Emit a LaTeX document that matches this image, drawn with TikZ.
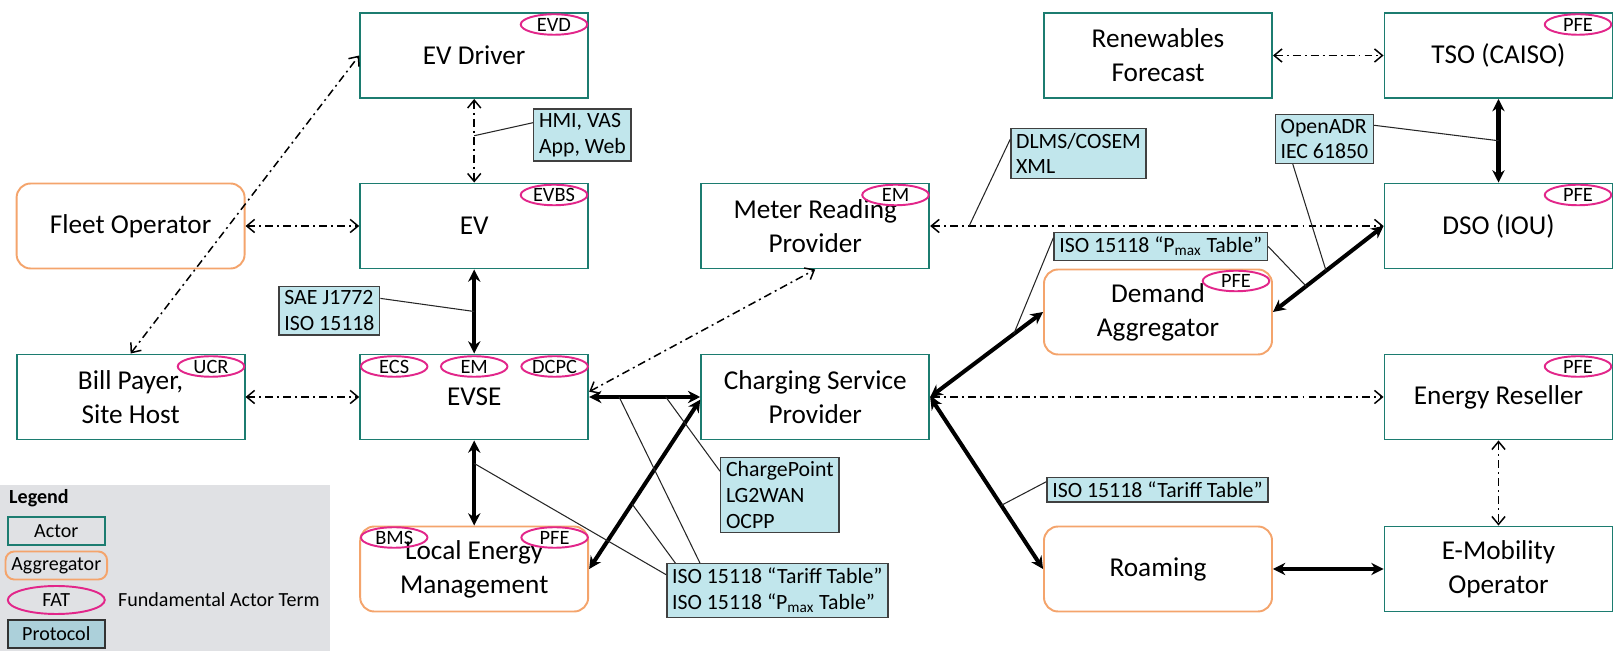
\documentclass[tikz,border=0pt]{standalone}
\usepackage{fontspec}
\setmainfont{Carlito}
\usetikzlibrary{arrows.meta,shapes.geometric}

\definecolor{actorteal}{RGB}{28,124,112}
\definecolor{aggrorange}{RGB}{244,164,108}
\definecolor{fatpink}{RGB}{226,38,138}
\definecolor{protoblue}{RGB}{193,230,236}
\definecolor{protoline}{RGB}{64,64,64}
\definecolor{legendgray}{RGB}{224,225,228}
\definecolor{legendblue}{RGB}{172,208,218}

\begin{document}
\begin{tikzpicture}[x=0.2mm,y=-0.2mm]
    \tikzset{actor/.style = {shape=rectangle, draw=actorteal, line width=1.1pt, fill=white, minimum width=4.56cm, minimum height=1.70cm, align=center, font=\fontsize{15.5}{19.3}\selectfont}}
    \tikzset{aggr/.style = {actor, draw=aggrorange, rounded corners=8pt}}
    \tikzset{fat/.style = {shape=ellipse, draw=fatpink, line width=1.1pt, minimum width=1.33cm, minimum height=0.41cm, inner sep=0pt, font=\fontsize{11.6}{12}\selectfont}}
    \tikzset{proto/.style = {shape=rectangle, draw=protoline, fill=protoblue, line width=0.8pt, align=left, inner xsep=3pt, inner ysep=2.5pt, font=\fontsize{12.4}{14.6}\selectfont}}
    \tikzset{info/.style = {line width=0.85pt, dash pattern=on 4.5pt off 2.3pt on 1.1pt off 2.3pt, {Straight Barb[length=4.5pt,width=7.5pt]}-{Straight Barb[length=4.5pt,width=7.5pt]}}}
    \tikzset{energy/.style = {line width=2.3pt, {Stealth[length=7pt,width=7pt]}-{Stealth[length=7pt,width=7pt]}}}
    \tikzset{callout/.style = {draw=black!85, line width=0.6pt}}
    \tikzset{legbox/.style = {minimum width=1.94cm, minimum height=0.56cm, fill=none, font=\fontsize{11.4}{13}\selectfont}}

    \useasboundingbox (0,0) rectangle (1614,651);

    % legend background
    \fill[legendgray] (0,485) rectangle (330,651);

    % actors
    \node[actor] (evdriver) at (474.2,55.5)  {EV Driver};
    \node[actor] (ev)       at (474.2,226)   {EV};
    \node[aggr]  (fleet)    at (130.6,226)   {Fleet Operator};
    \node[actor] (billpayer) at (130.6,397)  {Bill Payer,\\Site Host};
    \node[actor] (evse)     at (474.2,397)   {EVSE};
    \node[aggr]  (lem)      at (474.2,569)   {Local Energy\\Management};
    \node[actor] (meter)    at (815.2,226)   {Meter Reading\\Provider};
    \node[actor] (csp)      at (815.2,397)   {Charging Service\\Provider};
    \node[actor] (renew)    at (1158,55.5)   {Renewables\\Forecast};
    \node[aggr]  (demand)   at (1158,312)    {Demand\\Aggregator};
    \node[aggr]  (roaming)  at (1158,569)    {Roaming};
    \node[actor] (tso)      at (1498.5,55.5) {TSO (CAISO)};
    \node[actor] (dso)      at (1498.5,226)  {DSO (IOU)};
    \node[actor] (reseller) at (1498.5,397)  {Energy Reseller};
    \node[actor] (emob)     at (1498.5,569)  {E-Mobility\\Operator};

    % fundamental actor terms
    \node[fat] (fatevd)  at (554,24.5)    {EVD};
    \node[fat] (fatevbs) at (554,195)     {EVBS};
    \node[fat] (fatmrp)  at (895.5,195)   {EM};
    \node[fat] (fattso)  at (1578,24.5)   {PFE};
    \node[fat] (fatdso)  at (1578,195)    {PFE};
    \node[fat] (fatdem)  at (1236,281)    {PFE};
    \node[fat] (fatres)  at (1578,366.5)  {PFE};
    \node[fat] (fatucr)  at (211,366.5)   {UCR};
    \node[fat] (fatecs)  at (394.2,366.5) {ECS};
    \node[fat] (fatem)   at (474.2,366.5) {EM};
    \node[fat] (fatdcpc) at (554.6,366.5) {DCPC};
    \node[fat] (fatbms)  at (394.2,537.5) {BMS};
    \node[fat] (fatlem)  at (554.6,537.5) {PFE};

    % protocols
    \node[proto] (hmi)     at (582.4,135)   {HMI, VAS\\App, Web};
    \node[proto] (sae)     at (329.4,310.7) {SAE J1772\\ISO 15118};
    \node[proto] (dlms)    at (1078.5,153.5) {DLMS/COSEM\\XML};
    \node[proto] (openadr) at (1324.4,139)  {OpenADR\\IEC 61850};
    \node[proto] (pmaxtab) at (1160.8,246.5) {ISO 15118 “P\textsubscript{max} Table”};
    \node[proto] (cpoint)  at (779.8,495)   {ChargePoint\\LG2WAN\\OCPP};
    \node[proto] (isotab)  at (777.3,590.5) {ISO 15118 “Tariff Table”\\ISO 15118 “P\textsubscript{max} Table”};
    \node[proto] (tariff)  at (1157.5,489.8) {ISO 15118 “Tariff Table”};

    % information links
    \draw[info] (evdriver) -- coordinate[pos=0.44] (hmipt) (ev);
    \draw[info] (fleet) -- (ev);
    \draw[info] (billpayer) -- (evse);
    \draw[info] (billpayer.north) -- (evdriver.west);
    \draw[info] ([yshift=3pt]evse.east) -- (meter.south);
    \draw[info] (meter) -- coordinate[pos=0.086] (dlmspt) (dso);
    \draw[info] (renew) -- (tso);
    \draw[info] (csp) -- (reseller);
    \draw[info] (reseller) -- (emob);

    % energy and control links
    \draw[energy] (ev) -- coordinate[pos=0.5] (saept) (evse);
    \draw[energy] (evse) -- coordinate[pos=0.27] (lempt) (lem);
    \draw[energy] (evse) -- coordinate[pos=0.27] (isopt) coordinate[pos=0.69] (cppt) (csp);
    \draw[energy] (lem.east) -- coordinate[pos=0.385] (lemcsppt) ([yshift=-1.5pt]csp.west);
    \draw[energy] (tso) -- coordinate[pos=0.5] (tsodsopt) (dso);
    \draw[energy] (demand.east) -- coordinate[pos=0.30] (pmaxrpt) coordinate[pos=0.48] (adrpt) (dso.west);
    \draw[energy] (csp.east) -- coordinate[pos=0.74] (pmaxlpt) (demand.west);
    \draw[energy] (csp.east) -- coordinate[pos=0.63] (tariffpt) (roaming.west);
    \draw[energy] (roaming) -- (emob);

    % callouts
    \draw[callout] ([yshift=7pt]hmi.west) -- (hmipt);
    \draw[callout] ([yshift=7pt]sae.east) -- (saept);
    \draw[callout] ([yshift=8pt]dlms.west) -- (dlmspt);
    \draw[callout] ([yshift=7.8pt]openadr.east) -- (tsodsopt);
    \draw[callout] ([xshift=-18pt]openadr.south) -- (adrpt);
    \draw[callout] ([yshift=5pt]pmaxtab.west) -- (pmaxlpt);
    \draw[callout] (pmaxtab.east) -- (pmaxrpt);
    \draw[callout] ([yshift=13.5pt]cpoint.west) -- (cppt);
    \draw[callout] ([yshift=9pt]isotab.west) -- (lempt);
    \draw[callout] ([xshift=-58pt]isotab.north) -- (lemcsppt);
    \draw[callout] ([xshift=-44pt]isotab.north) -- (isopt);
    \draw[callout] ([yshift=4.6pt]tariff.west) -- (tariffpt);

    % legend
    \node[anchor=west, font=\bfseries\fontsize{11.4}{13}\selectfont] (legtitle) at (3,498) {Legend};
    \node[actor, legbox] (legactor) at (56.3,531) {Actor};
    \node[aggr, legbox, rounded corners=5pt] (legaggr) at (56.3,565.5) {Aggregator};
    \node[fat, legbox, minimum width=1.94cm] (legfat) at (56.3,600) {FAT};
    \node[proto, legbox, fill=legendblue, draw=black!80, line width=1.1pt, align=center] (legproto) at (56.3,634) {Protocol};
    \node[anchor=west, font=\fontsize{11.4}{13}\selectfont] (legfattext) at (112,600) {Fundamental Actor Term};
\end{tikzpicture}
\end{document}
